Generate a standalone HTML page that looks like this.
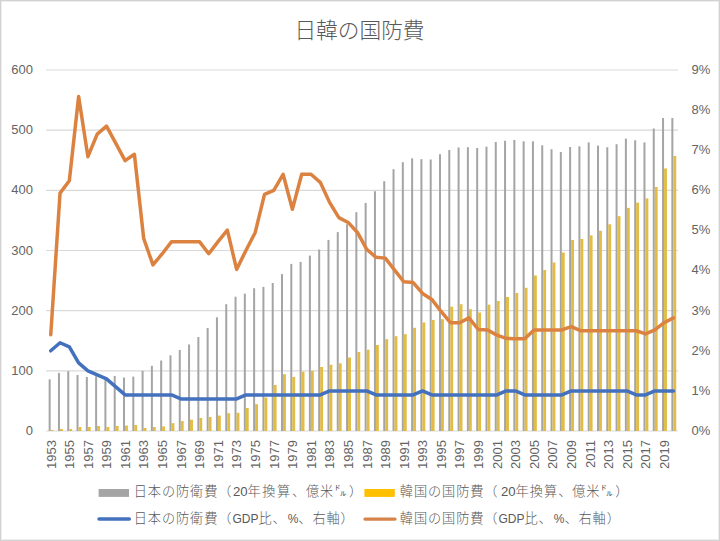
<!DOCTYPE html>
<html lang="ja"><head><meta charset="utf-8">
<style>
html,body{margin:0;padding:0;background:#fff;}
#c{position:relative;width:720px;height:541px;overflow:hidden;background:#fff;box-sizing:border-box;border:1px solid #D2D2D2;box-shadow:inset 0 0 0 1px #EEEEEE;}
#c svg{position:absolute;left:-1px;top:-1px;}
.ax{font-family:"Liberation Sans","Noto Sans CJK JP",sans-serif;font-size:13px;fill:#646464;}
.t{position:absolute;font-family:"Liberation Sans","Noto Sans CJK JP",sans-serif;color:#595959;white-space:nowrap;}
#title{left:-1.5px;width:720px;top:14.5px;text-align:center;font-size:21.7px;font-weight:200;line-height:30px;}
.lg{font-size:13.2px;letter-spacing:0.9px;line-height:18px;font-weight:300;}
.la{letter-spacing:0;}
.la2{letter-spacing:0;font-size:12px;}
.ws{letter-spacing:1.6px;}
.sw{position:absolute;}
.g1{margin-left:0;}
.dl{display:inline-block;width:13px;margin-right:1.7px;font-size:12.5px;font-weight:400;}
</style></head><body>
<div id="c">
<svg width="720" height="541" viewBox="0 0 720 541">
<line x1="46.1" y1="70.00" x2="678.09" y2="70.00" stroke="#D9D9D9" stroke-width="1.2"/>
<line x1="46.1" y1="130.17" x2="678.09" y2="130.17" stroke="#D9D9D9" stroke-width="1.2"/>
<line x1="46.1" y1="190.33" x2="678.09" y2="190.33" stroke="#D9D9D9" stroke-width="1.2"/>
<line x1="46.1" y1="250.50" x2="678.09" y2="250.50" stroke="#D9D9D9" stroke-width="1.2"/>
<line x1="46.1" y1="310.67" x2="678.09" y2="310.67" stroke="#D9D9D9" stroke-width="1.2"/>
<line x1="46.1" y1="370.83" x2="678.09" y2="370.83" stroke="#D9D9D9" stroke-width="1.2"/>
<line x1="46.1" y1="431.00" x2="678.09" y2="431.00" stroke="#D9D9D9" stroke-width="1.2"/>
<rect x="48.65" y="379.3" width="2.0" height="51.7" fill="#A5A5A5"/>
<rect x="57.94" y="372.9" width="2.0" height="58.1" fill="#A5A5A5"/>
<rect x="67.24" y="371.2" width="2.0" height="59.8" fill="#A5A5A5"/>
<rect x="76.53" y="375.0" width="2.0" height="56.0" fill="#A5A5A5"/>
<rect x="85.83" y="377.0" width="2.0" height="54.0" fill="#A5A5A5"/>
<rect x="95.12" y="376.3" width="2.0" height="54.7" fill="#A5A5A5"/>
<rect x="104.41" y="378.2" width="2.0" height="52.8" fill="#A5A5A5"/>
<rect x="113.71" y="375.9" width="2.0" height="55.1" fill="#A5A5A5"/>
<rect x="123.00" y="377.5" width="2.0" height="53.5" fill="#A5A5A5"/>
<rect x="132.30" y="376.6" width="2.0" height="54.4" fill="#A5A5A5"/>
<rect x="141.59" y="370.8" width="2.0" height="60.2" fill="#A5A5A5"/>
<rect x="150.88" y="365.8" width="2.0" height="65.2" fill="#A5A5A5"/>
<rect x="160.18" y="360.5" width="2.0" height="70.5" fill="#A5A5A5"/>
<rect x="169.47" y="355.3" width="2.0" height="75.7" fill="#A5A5A5"/>
<rect x="178.77" y="350.0" width="2.0" height="81.0" fill="#A5A5A5"/>
<rect x="188.06" y="344.5" width="2.0" height="86.5" fill="#A5A5A5"/>
<rect x="197.35" y="337.0" width="2.0" height="94.0" fill="#A5A5A5"/>
<rect x="206.65" y="328.0" width="2.0" height="103.0" fill="#A5A5A5"/>
<rect x="215.94" y="317.3" width="2.0" height="113.7" fill="#A5A5A5"/>
<rect x="225.24" y="304.2" width="2.0" height="126.8" fill="#A5A5A5"/>
<rect x="234.53" y="296.7" width="2.0" height="134.3" fill="#A5A5A5"/>
<rect x="243.82" y="293.7" width="2.0" height="137.3" fill="#A5A5A5"/>
<rect x="253.12" y="288.2" width="2.0" height="142.8" fill="#A5A5A5"/>
<rect x="262.41" y="286.9" width="2.0" height="144.1" fill="#A5A5A5"/>
<rect x="271.71" y="283.0" width="2.0" height="148.0" fill="#A5A5A5"/>
<rect x="281.00" y="274.1" width="2.0" height="156.9" fill="#A5A5A5"/>
<rect x="290.29" y="263.9" width="2.0" height="167.1" fill="#A5A5A5"/>
<rect x="299.59" y="261.9" width="2.0" height="169.1" fill="#A5A5A5"/>
<rect x="308.88" y="255.6" width="2.0" height="175.4" fill="#A5A5A5"/>
<rect x="318.18" y="249.5" width="2.0" height="181.5" fill="#A5A5A5"/>
<rect x="327.47" y="239.9" width="2.0" height="191.1" fill="#A5A5A5"/>
<rect x="336.76" y="232.1" width="2.0" height="198.9" fill="#A5A5A5"/>
<rect x="346.06" y="224.2" width="2.0" height="206.8" fill="#A5A5A5"/>
<rect x="355.35" y="212.2" width="2.0" height="218.8" fill="#A5A5A5"/>
<rect x="364.65" y="202.9" width="2.0" height="228.1" fill="#A5A5A5"/>
<rect x="373.94" y="191.2" width="2.0" height="239.8" fill="#A5A5A5"/>
<rect x="383.23" y="181.2" width="2.0" height="249.8" fill="#A5A5A5"/>
<rect x="392.53" y="169.2" width="2.0" height="261.8" fill="#A5A5A5"/>
<rect x="401.82" y="162.2" width="2.0" height="268.8" fill="#A5A5A5"/>
<rect x="411.12" y="158.3" width="2.0" height="272.7" fill="#A5A5A5"/>
<rect x="420.41" y="159.2" width="2.0" height="271.8" fill="#A5A5A5"/>
<rect x="429.70" y="159.5" width="2.0" height="271.5" fill="#A5A5A5"/>
<rect x="439.00" y="154.2" width="2.0" height="276.8" fill="#A5A5A5"/>
<rect x="448.29" y="150.0" width="2.0" height="281.0" fill="#A5A5A5"/>
<rect x="457.59" y="147.5" width="2.0" height="283.5" fill="#A5A5A5"/>
<rect x="466.88" y="147.2" width="2.0" height="283.8" fill="#A5A5A5"/>
<rect x="476.17" y="148.0" width="2.0" height="283.0" fill="#A5A5A5"/>
<rect x="485.47" y="146.7" width="2.0" height="284.3" fill="#A5A5A5"/>
<rect x="494.76" y="142.0" width="2.0" height="289.0" fill="#A5A5A5"/>
<rect x="504.06" y="140.8" width="2.0" height="290.2" fill="#A5A5A5"/>
<rect x="513.35" y="140.0" width="2.0" height="291.0" fill="#A5A5A5"/>
<rect x="522.64" y="141.3" width="2.0" height="289.7" fill="#A5A5A5"/>
<rect x="531.94" y="141.3" width="2.0" height="289.7" fill="#A5A5A5"/>
<rect x="541.23" y="145.3" width="2.0" height="285.7" fill="#A5A5A5"/>
<rect x="550.53" y="149.2" width="2.0" height="281.8" fill="#A5A5A5"/>
<rect x="559.82" y="152.0" width="2.0" height="279.0" fill="#A5A5A5"/>
<rect x="569.11" y="147.0" width="2.0" height="284.0" fill="#A5A5A5"/>
<rect x="578.41" y="146.3" width="2.0" height="284.7" fill="#A5A5A5"/>
<rect x="587.70" y="142.4" width="2.0" height="288.6" fill="#A5A5A5"/>
<rect x="597.00" y="145.6" width="2.0" height="285.4" fill="#A5A5A5"/>
<rect x="606.29" y="147.2" width="2.0" height="283.8" fill="#A5A5A5"/>
<rect x="615.58" y="144.2" width="2.0" height="286.8" fill="#A5A5A5"/>
<rect x="624.88" y="138.6" width="2.0" height="292.4" fill="#A5A5A5"/>
<rect x="634.17" y="140.3" width="2.0" height="290.7" fill="#A5A5A5"/>
<rect x="643.47" y="142.4" width="2.0" height="288.6" fill="#A5A5A5"/>
<rect x="652.76" y="128.5" width="2.0" height="302.5" fill="#A5A5A5"/>
<rect x="662.05" y="118.0" width="2.0" height="313.0" fill="#A5A5A5"/>
<rect x="671.35" y="118.0" width="2.0" height="313.0" fill="#A5A5A5"/>
<rect x="50.65" y="430.0" width="2.9" height="1.0" fill="#E2BC45"/>
<rect x="59.94" y="429.0" width="2.9" height="2.0" fill="#E2BC45"/>
<rect x="69.24" y="429.0" width="2.9" height="2.0" fill="#E2BC45"/>
<rect x="78.53" y="427.0" width="2.9" height="4.0" fill="#E2BC45"/>
<rect x="87.83" y="427.0" width="2.9" height="4.0" fill="#E2BC45"/>
<rect x="97.12" y="426.0" width="2.9" height="5.0" fill="#E2BC45"/>
<rect x="106.41" y="427.0" width="2.9" height="4.0" fill="#E2BC45"/>
<rect x="115.71" y="426.0" width="2.9" height="5.0" fill="#E2BC45"/>
<rect x="125.00" y="425.5" width="2.9" height="5.5" fill="#E2BC45"/>
<rect x="134.30" y="425.0" width="2.9" height="6.0" fill="#E2BC45"/>
<rect x="143.59" y="428.0" width="2.9" height="3.0" fill="#E2BC45"/>
<rect x="152.88" y="427.0" width="2.9" height="4.0" fill="#E2BC45"/>
<rect x="162.18" y="426.4" width="2.9" height="4.6" fill="#E2BC45"/>
<rect x="171.47" y="423.2" width="2.9" height="7.8" fill="#E2BC45"/>
<rect x="180.77" y="421.1" width="2.9" height="9.9" fill="#E2BC45"/>
<rect x="190.06" y="419.7" width="2.9" height="11.3" fill="#E2BC45"/>
<rect x="199.35" y="418.0" width="2.9" height="13.0" fill="#E2BC45"/>
<rect x="208.65" y="417.0" width="2.9" height="14.0" fill="#E2BC45"/>
<rect x="217.94" y="415.6" width="2.9" height="15.4" fill="#E2BC45"/>
<rect x="227.24" y="413.2" width="2.9" height="17.8" fill="#E2BC45"/>
<rect x="236.53" y="412.8" width="2.9" height="18.2" fill="#E2BC45"/>
<rect x="245.82" y="408.0" width="2.9" height="23.0" fill="#E2BC45"/>
<rect x="255.12" y="404.2" width="2.9" height="26.8" fill="#E2BC45"/>
<rect x="264.41" y="397.5" width="2.9" height="33.5" fill="#E2BC45"/>
<rect x="273.71" y="385.0" width="2.9" height="46.0" fill="#E2BC45"/>
<rect x="283.00" y="374.2" width="2.9" height="56.8" fill="#E2BC45"/>
<rect x="292.29" y="377.0" width="2.9" height="54.0" fill="#E2BC45"/>
<rect x="301.59" y="371.7" width="2.9" height="59.3" fill="#E2BC45"/>
<rect x="310.88" y="370.8" width="2.9" height="60.2" fill="#E2BC45"/>
<rect x="320.18" y="367.0" width="2.9" height="64.0" fill="#E2BC45"/>
<rect x="329.47" y="364.7" width="2.9" height="66.3" fill="#E2BC45"/>
<rect x="338.76" y="363.3" width="2.9" height="67.7" fill="#E2BC45"/>
<rect x="348.06" y="357.5" width="2.9" height="73.5" fill="#E2BC45"/>
<rect x="357.35" y="352.0" width="2.9" height="79.0" fill="#E2BC45"/>
<rect x="366.65" y="349.7" width="2.9" height="81.3" fill="#E2BC45"/>
<rect x="375.94" y="345.0" width="2.9" height="86.0" fill="#E2BC45"/>
<rect x="385.23" y="339.2" width="2.9" height="91.8" fill="#E2BC45"/>
<rect x="394.53" y="336.2" width="2.9" height="94.8" fill="#E2BC45"/>
<rect x="403.82" y="334.2" width="2.9" height="96.8" fill="#E2BC45"/>
<rect x="413.12" y="327.8" width="2.9" height="103.2" fill="#E2BC45"/>
<rect x="422.41" y="322.5" width="2.9" height="108.5" fill="#E2BC45"/>
<rect x="431.70" y="320.0" width="2.9" height="111.0" fill="#E2BC45"/>
<rect x="441.00" y="319.2" width="2.9" height="111.8" fill="#E2BC45"/>
<rect x="450.29" y="306.7" width="2.9" height="124.3" fill="#E2BC45"/>
<rect x="459.59" y="304.2" width="2.9" height="126.8" fill="#E2BC45"/>
<rect x="468.88" y="309.2" width="2.9" height="121.8" fill="#E2BC45"/>
<rect x="478.17" y="312.5" width="2.9" height="118.5" fill="#E2BC45"/>
<rect x="487.47" y="304.7" width="2.9" height="126.3" fill="#E2BC45"/>
<rect x="496.76" y="301.0" width="2.9" height="130.0" fill="#E2BC45"/>
<rect x="506.06" y="297.0" width="2.9" height="134.0" fill="#E2BC45"/>
<rect x="515.35" y="293.0" width="2.9" height="138.0" fill="#E2BC45"/>
<rect x="524.64" y="287.8" width="2.9" height="143.2" fill="#E2BC45"/>
<rect x="533.94" y="275.5" width="2.9" height="155.5" fill="#E2BC45"/>
<rect x="543.23" y="270.0" width="2.9" height="161.0" fill="#E2BC45"/>
<rect x="552.53" y="262.5" width="2.9" height="168.5" fill="#E2BC45"/>
<rect x="561.82" y="252.5" width="2.9" height="178.5" fill="#E2BC45"/>
<rect x="571.11" y="240.0" width="2.9" height="191.0" fill="#E2BC45"/>
<rect x="580.41" y="239.0" width="2.9" height="192.0" fill="#E2BC45"/>
<rect x="589.70" y="235.4" width="2.9" height="195.6" fill="#E2BC45"/>
<rect x="599.00" y="230.8" width="2.9" height="200.2" fill="#E2BC45"/>
<rect x="608.29" y="224.3" width="2.9" height="206.7" fill="#E2BC45"/>
<rect x="617.58" y="216.2" width="2.9" height="214.8" fill="#E2BC45"/>
<rect x="626.88" y="207.9" width="2.9" height="223.1" fill="#E2BC45"/>
<rect x="636.17" y="202.7" width="2.9" height="228.3" fill="#E2BC45"/>
<rect x="645.47" y="198.4" width="2.9" height="232.6" fill="#E2BC45"/>
<rect x="654.76" y="187.0" width="2.9" height="244.0" fill="#E2BC45"/>
<rect x="664.05" y="168.5" width="2.9" height="262.5" fill="#E2BC45"/>
<rect x="673.35" y="156.0" width="2.9" height="275.0" fill="#E2BC45"/>
<polyline points="50.75,350.78 60.04,342.76 69.34,346.77 78.63,362.81 87.92,370.83 97.22,374.85 106.51,378.86 115.81,386.88 125.10,394.90 134.39,394.90 143.69,394.90 152.98,394.90 162.28,394.90 171.57,394.90 180.86,398.91 190.16,398.91 199.45,398.91 208.75,398.91 218.04,398.91 227.33,398.91 236.63,398.91 245.92,394.90 255.22,394.90 264.51,394.90 273.80,394.90 283.10,394.90 292.39,394.90 301.69,394.90 310.98,394.90 320.27,394.90 329.57,390.89 338.86,390.89 348.16,390.89 357.45,390.89 366.74,390.89 376.04,394.90 385.33,394.90 394.63,394.90 403.92,394.90 413.21,394.90 422.51,390.89 431.80,394.90 441.10,394.90 450.39,394.90 459.68,394.90 468.98,394.90 478.27,394.90 487.57,394.90 496.86,394.90 506.15,390.89 515.45,390.89 524.74,394.90 534.03,394.90 543.33,394.90 552.62,394.90 561.92,394.90 571.21,390.89 580.50,390.89 589.80,390.89 599.09,390.89 608.39,390.89 617.68,390.89 626.98,390.89 636.27,394.90 645.56,394.90 654.86,390.89 664.15,390.89 673.45,390.89" fill="none" stroke="#4471BE" stroke-width="3.5" stroke-linejoin="round" stroke-linecap="round"/>
<polyline points="50.75,334.74 60.04,193.15 69.34,180.71 78.63,96.48 87.92,156.65 97.22,134.19 106.51,126.16 115.81,143.41 125.10,160.66 134.39,154.24 143.69,238.47 152.98,264.94 162.28,253.71 171.57,241.68 180.86,241.68 190.16,241.68 199.45,241.68 208.75,253.71 218.04,241.68 227.33,230.05 236.63,269.36 245.92,250.50 255.22,232.46 264.51,194.35 273.80,190.34 283.10,174.30 292.39,209.19 301.69,174.30 310.98,174.30 320.27,182.32 329.57,202.37 338.86,217.61 348.16,222.43 357.45,232.46 366.74,249.30 376.04,257.32 385.33,258.13 394.63,270.16 403.92,281.79 413.21,282.59 422.51,293.42 431.80,299.44 441.10,311.47 450.39,322.70 459.68,322.70 468.98,317.89 478.27,329.52 487.57,329.92 496.86,335.14 506.15,338.35 515.45,338.75 524.74,338.75 534.03,329.92 543.33,329.92 552.62,329.92 561.92,329.92 571.21,326.71 580.50,330.73 589.80,330.73 599.09,330.73 608.39,330.73 617.68,330.73 626.98,330.73 636.27,330.73 645.56,333.93 654.86,329.92 664.15,322.70 673.45,317.89" fill="none" stroke="#DC8240" stroke-width="3.5" stroke-linejoin="round" stroke-linecap="round"/>
<text x="33" y="435.00" text-anchor="end" class="ax">0</text>
<text x="33" y="374.83" text-anchor="end" class="ax">100</text>
<text x="33" y="314.67" text-anchor="end" class="ax">200</text>
<text x="33" y="254.50" text-anchor="end" class="ax">300</text>
<text x="33" y="194.33" text-anchor="end" class="ax">400</text>
<text x="33" y="134.17" text-anchor="end" class="ax">500</text>
<text x="33" y="74.00" text-anchor="end" class="ax">600</text>
<text x="691.5" y="434.90" class="ax">0%</text>
<text x="691.5" y="394.79" class="ax">1%</text>
<text x="691.5" y="354.68" class="ax">2%</text>
<text x="691.5" y="314.57" class="ax">3%</text>
<text x="691.5" y="274.46" class="ax">4%</text>
<text x="691.5" y="234.34" class="ax">5%</text>
<text x="691.5" y="194.23" class="ax">6%</text>
<text x="691.5" y="154.12" class="ax">7%</text>
<text x="691.5" y="114.01" class="ax">8%</text>
<text x="691.5" y="73.90" class="ax">9%</text>
<text transform="translate(55.55,440) rotate(-90)" text-anchor="end" class="ax">1953</text>
<text transform="translate(74.14,440) rotate(-90)" text-anchor="end" class="ax">1955</text>
<text transform="translate(92.72,440) rotate(-90)" text-anchor="end" class="ax">1957</text>
<text transform="translate(111.31,440) rotate(-90)" text-anchor="end" class="ax">1959</text>
<text transform="translate(129.90,440) rotate(-90)" text-anchor="end" class="ax">1961</text>
<text transform="translate(148.49,440) rotate(-90)" text-anchor="end" class="ax">1963</text>
<text transform="translate(167.08,440) rotate(-90)" text-anchor="end" class="ax">1965</text>
<text transform="translate(185.66,440) rotate(-90)" text-anchor="end" class="ax">1967</text>
<text transform="translate(204.25,440) rotate(-90)" text-anchor="end" class="ax">1969</text>
<text transform="translate(222.84,440) rotate(-90)" text-anchor="end" class="ax">1971</text>
<text transform="translate(241.43,440) rotate(-90)" text-anchor="end" class="ax">1973</text>
<text transform="translate(260.01,440) rotate(-90)" text-anchor="end" class="ax">1975</text>
<text transform="translate(278.60,440) rotate(-90)" text-anchor="end" class="ax">1977</text>
<text transform="translate(297.19,440) rotate(-90)" text-anchor="end" class="ax">1979</text>
<text transform="translate(315.78,440) rotate(-90)" text-anchor="end" class="ax">1981</text>
<text transform="translate(334.37,440) rotate(-90)" text-anchor="end" class="ax">1983</text>
<text transform="translate(352.96,440) rotate(-90)" text-anchor="end" class="ax">1985</text>
<text transform="translate(371.54,440) rotate(-90)" text-anchor="end" class="ax">1987</text>
<text transform="translate(390.13,440) rotate(-90)" text-anchor="end" class="ax">1989</text>
<text transform="translate(408.72,440) rotate(-90)" text-anchor="end" class="ax">1991</text>
<text transform="translate(427.31,440) rotate(-90)" text-anchor="end" class="ax">1993</text>
<text transform="translate(445.90,440) rotate(-90)" text-anchor="end" class="ax">1995</text>
<text transform="translate(464.48,440) rotate(-90)" text-anchor="end" class="ax">1997</text>
<text transform="translate(483.07,440) rotate(-90)" text-anchor="end" class="ax">1999</text>
<text transform="translate(501.66,440) rotate(-90)" text-anchor="end" class="ax">2001</text>
<text transform="translate(520.25,440) rotate(-90)" text-anchor="end" class="ax">2003</text>
<text transform="translate(538.83,440) rotate(-90)" text-anchor="end" class="ax">2005</text>
<text transform="translate(557.42,440) rotate(-90)" text-anchor="end" class="ax">2007</text>
<text transform="translate(576.01,440) rotate(-90)" text-anchor="end" class="ax">2009</text>
<text transform="translate(594.60,440) rotate(-90)" text-anchor="end" class="ax">2011</text>
<text transform="translate(613.19,440) rotate(-90)" text-anchor="end" class="ax">2013</text>
<text transform="translate(631.77,440) rotate(-90)" text-anchor="end" class="ax">2015</text>
<text transform="translate(650.36,440) rotate(-90)" text-anchor="end" class="ax">2017</text>
<text transform="translate(668.95,440) rotate(-90)" text-anchor="end" class="ax">2019</text>
<rect x="98.6" y="489" width="30.4" height="7.9" fill="#A5A5A5"/>
<rect x="364.4" y="489" width="30.4" height="7.9" fill="#FFC000"/>
<line x1="99" y1="519.1" x2="129.3" y2="519.1" stroke="#4471BE" stroke-width="3.5" stroke-linecap="round"/>
<line x1="365" y1="519.1" x2="395" y2="519.1" stroke="#D5834A" stroke-width="3.3" stroke-linecap="round"/>
</svg>
<div class="t" id="title">日韓の国防費</div>
<div class="t lg" style="left:132.75px;top:482px;">日本の防衛費（<span class="la" style="margin-left:0.5px">20</span><span class="ws">年換算</span>、<span class="g1">億米</span><span class="dl">㌦</span>）</div>
<div class="t lg" style="left:398.8px;top:482px;">韓国の国防費（<span class="la" style="margin-left:2.5px">20</span><span class="ws" style="letter-spacing:1.0px">年換算</span>、<span class="g1">億米</span><span class="dl">㌦</span>）</div>
<div class="t lg" style="left:132.75px;top:508.5px;">日本の防衛費（<span class="la2">GDP</span>比、<span class="la2" style="margin-left:1.1px">%</span>、右軸）</div>
<div class="t lg" style="left:398.8px;top:508.5px;">韓国の国防費（<span class="la2">GDP</span>比、<span class="la2" style="margin-left:1.1px">%</span>、右軸）</div>
</div>
</body></html>
